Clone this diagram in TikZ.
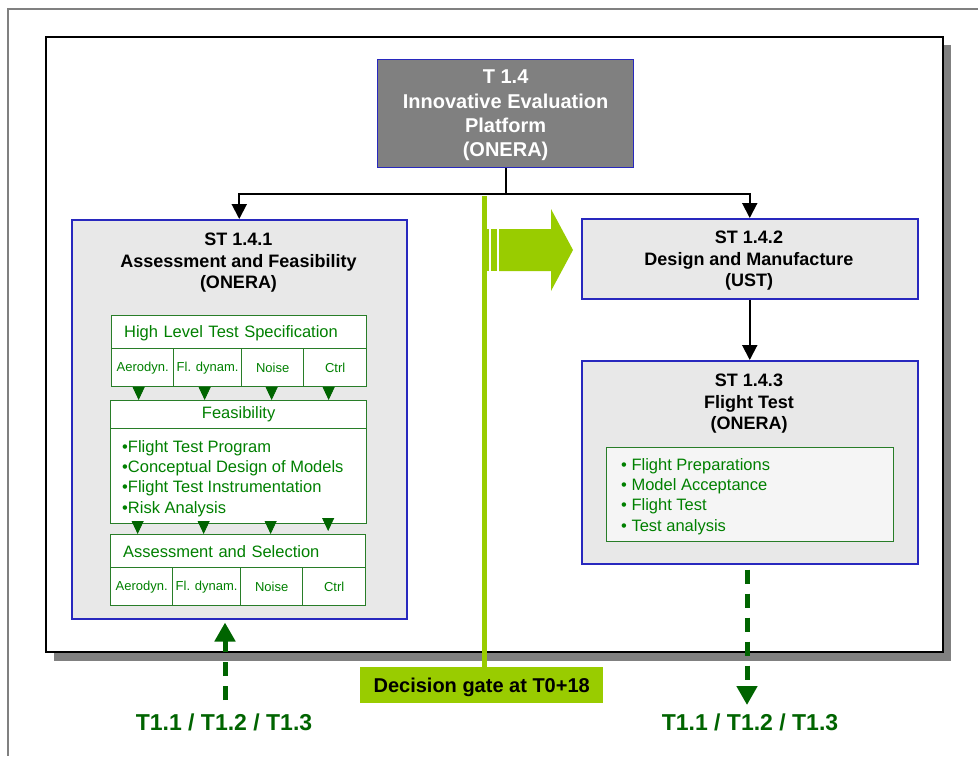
\documentclass[tikz,border=0pt]{standalone}
\usepackage{fontspec}
\setmainfont{Liberation Sans}
\usetikzlibrary{arrows.meta,calc}

\definecolor{framegray}{RGB}{128,128,128}
\definecolor{boxfill}{RGB}{232,232,232}
\definecolor{boxblue}{RGB}{40,40,190}
\definecolor{txtgreen}{RGB}{0,128,0}
\definecolor{linegreen}{RGB}{40,125,40}
\definecolor{darkgreen}{RGB}{0,100,0}
\definecolor{gatelime}{RGB}{153,204,0}
\definecolor{listfill}{RGB}{245,245,245}

\tikzset{
  stbox/.style={draw=boxblue, line width=1.5pt, fill=boxfill, inner sep=0pt, anchor=north west},
  topbox/.style={draw=boxblue, line width=1.2pt, fill=framegray, inner sep=0pt, anchor=north west},
  toptext/.style={text=white, font=\fontsize{20}{24.3}\selectfont\bfseries, align=center, inner sep=0pt},
  sttitle/.style={font=\fontsize{18}{21.5}\selectfont\bfseries, align=center, inner sep=0pt},
  gbox/.style={draw=linegreen, line width=1.3pt, fill=white, inner sep=0pt, anchor=north west,
    text=txtgreen, font=\fontsize{16.5}{20}\selectfont},
  cell/.style={gbox, minimum height=38pt, font=\fontsize{13}{15}\selectfont},
  listtext/.style={text=txtgreen, font=\fontsize{16.5}{20.3}\selectfont, align=left, inner sep=0pt, anchor=west},
  link/.style={draw=black, line width=2pt, -{Triangle[length=15pt,width=15pt]}},
  flowtip/.style={draw=darkgreen, fill=darkgreen, line width=0.8pt, -{Triangle[length=13pt,width=12pt]}},
  feed/.style={draw=darkgreen, line width=5pt, dash pattern=on 14pt off 10pt,
    -{Triangle[length=19pt,width=20pt]}},
  feedtext/.style={text=darkgreen, font=\fontsize{23}{26}\selectfont\bfseries, inner sep=0pt},
  gatebox/.style={fill=gatelime, inner sep=0pt, anchor=north west,
    font=\fontsize{20}{24}\selectfont\bfseries}
}

\begin{document}
\begin{tikzpicture}[x=1pt,y=-1pt]
\useasboundingbox (0,0) rectangle (978,756);
\fill[white] (0,0) rectangle (978,756);

% outer frame (top and left edges)
\draw[framegray, line width=2.5pt] (978,9) -- (8,9) -- (8,756);

% panel with drop shadow
\fill[framegray] (54,45) rectangle (951,661);
\draw[black, line width=1.5pt, fill=white] (46,37) rectangle (943,652);

% decision gate line and label
\node[gatebox, minimum width=243pt, minimum height=36pt, text depth=-1pt] (gate) at (360,667) {Decision gate at T0+18};
\coordinate (gtop) at (484.5,196);
\draw[gatelime, line width=5pt] (gtop) -- (gtop |- gate.north);

% transition arrow across the gate
\fill[gatelime] (487,229) rectangle (489,271);
\fill[gatelime] (491,229) rectangle (497,271);
\fill[gatelime] (499,229) -- (551,229) -- (551,209) -- (573,250) -- (551,291) -- (551,271) -- (499,271) -- cycle;

% top task
\node[topbox, minimum width=256pt, minimum height=108pt] (t14) at (377,59) {};
\node[toptext] (t14t) at ([yshift=-2pt]t14.center) {T 1.4\\Innovative Evaluation\\Platform\\(ONERA)};

% sub-task boxes
\node[stbox, minimum width=335pt, minimum height=399pt] (st141) at (71,219) {};
\node[sttitle] (st141t) at (238.5,263) {ST 1.4.1\\Assessment and Feasibility\\(ONERA)};

\node[stbox, minimum width=336pt, minimum height=80pt] (st142) at (581,218) {};
\node[sttitle] (st142t) at (749,261) {ST 1.4.2\\Design and Manufacture\\(UST)};

\node[stbox, minimum width=336pt, minimum height=203pt] (st143) at (581,360) {};
\node[sttitle] (st143t) at (749,404) {ST 1.4.3\\Flight Test\\(ONERA)};

% hierarchy connectors
\draw[link] (t14.south) -- ++(0,26) -| (st141.north);
\draw[link] (t14.south) -- ++(0,26) -| (st142.north);
\draw[link] (st142.south) -- (st143.north);

% high level test specification
\node[gbox, minimum width=255pt, minimum height=33pt, text width=230pt, inner xsep=12.5pt, align=left, text depth=0.5pt]
  (hl) at (111,315) {High Level Test Specification};
\node[cell, minimum width=62pt] (hl1) at (111,348) {Aerodyn.};
\node[cell, minimum width=68pt] (hl2) at (173,348) {Fl. dynam.};
\node[cell, minimum width=62pt] (hl3) at (241,348) {Noise};
\node[cell, minimum width=63pt] (hl4) at (303,348) {Ctrl};

% feasibility
\node[gbox, minimum width=256pt, minimum height=28pt] (feas) at (110,400) {Feasibility};
\node[gbox, minimum width=256pt, minimum height=95pt] (feasb) at (110,428) {};
\node[listtext] (feasl) at (122,478.5)
  {•Flight Test Program\\•Conceptual Design of Models\\•Flight Test Instrumentation\\•Risk Analysis};

% assessment and selection
\node[gbox, minimum width=255pt, minimum height=33pt, text width=230pt, inner xsep=12.5pt, align=left]
  (asel) at (110,534) {Assessment and Selection};
\node[cell, minimum width=62pt] (as1) at (110,567) {Aerodyn.};
\node[cell, minimum width=68pt] (as2) at (172,567) {Fl. dynam.};
\node[cell, minimum width=62pt] (as3) at (240,567) {Noise};
\node[cell, minimum width=63pt] (as4) at (302,567) {Ctrl};

% flow between the stages
\draw[flowtip] ([xshift=-4pt]hl1.south) -- ([xshift=-4pt]hl1.south |- feas.north);
\draw[flowtip] ([xshift=-3pt]hl2.south) -- ([xshift=-3pt]hl2.south |- feas.north);
\draw[flowtip] ([xshift=-1pt]hl3.south) -- ([xshift=-1pt]hl3.south |- feas.north);
\draw[flowtip] ([xshift=-6.5pt]hl4.south) -- ([xshift=-6.5pt]hl4.south |- feas.north);

\draw[flowtip] ([xshift=-4pt]as1.north |- feasb.south) -- ([xshift=-4pt]as1.north |- asel.north);
\draw[flowtip] ([xshift=-3pt]as2.north |- feasb.south) -- ([xshift=-3pt]as2.north |- asel.north);
\draw[flowtip] ([xshift=-1pt]as3.north |- feasb.south) -- ([xshift=-1pt]as3.north |- asel.north);
\draw[flowtip] ([xshift=-6pt,yshift=3pt]as4.north |- feasb.south) -- ([xshift=-6pt,yshift=3pt]as4.north |- asel.north);

% flight test activities
\node[gbox, fill=listfill, minimum width=287pt, minimum height=94pt] (ftb) at (606,447) {};
\node[listtext] (ftl) at (621,496.5)
  {• Flight Preparations\\• Model Acceptance\\• Flight Test\\• Test analysis};

% links to the other tasks
\node[feedtext] (srcL) at (224,722) {T1.1 / T1.2 / T1.3};
\coordinate (lfoot) at (225,700);
\draw[feed, shorten >=3pt] (lfoot) -- (lfoot |- st141.south);

\node[feedtext] (dstR) at (750,722) {T1.1 / T1.2 / T1.3};
\coordinate (rfoot) at (747,705);
\draw[feed, shorten <=5pt] (rfoot |- st143.south) -- (rfoot);
\end{tikzpicture}
\end{document}
